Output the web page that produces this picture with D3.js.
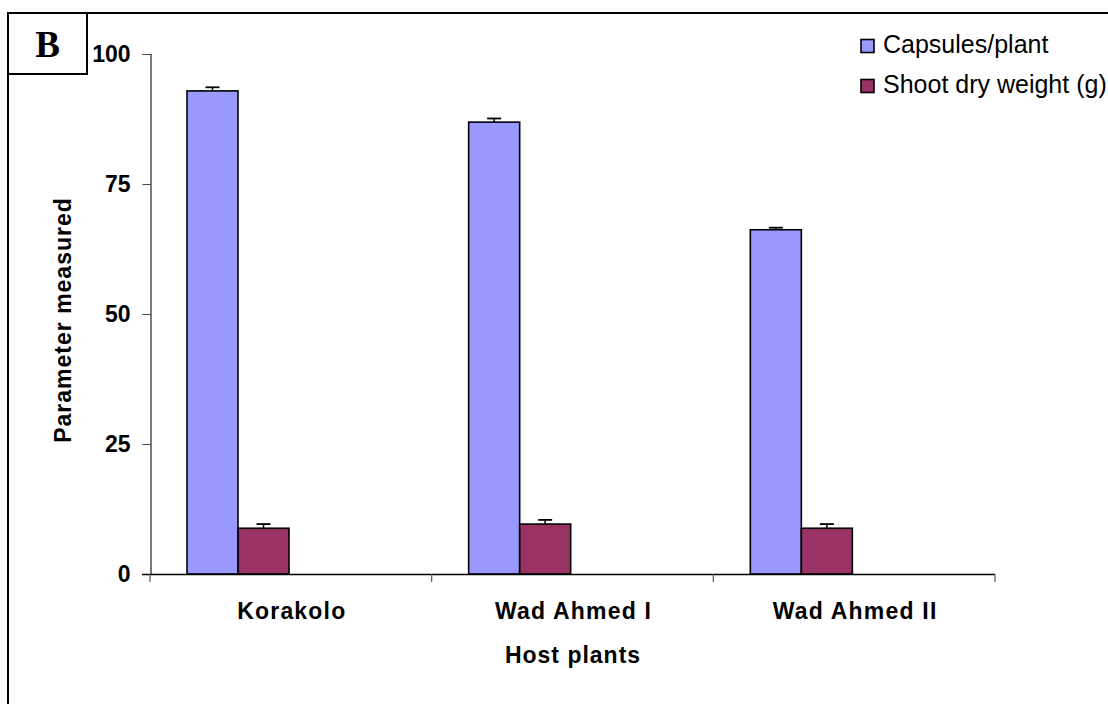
<!DOCTYPE html>
<html>
<head>
<meta charset="utf-8">
<script src="https://cdn.jsdelivr.net/npm/d3@7"></script>
<style>
  html, body { margin: 0; padding: 0; background: #fff; }
  svg { display: block; }
</style>
</head>
<body>
<svg id="chart" width="1108" height="704"></svg>
<script>
// Host plants and measured parameters
const categories = ["Korakolo", "Wad Ahmed I", "Wad Ahmed II"];
const seriesNames = ["Capsules/plant", "Shoot dry weight (g)"];
const capsules = [92.9, 86.9, 66.2];
const capsulesErr = [0.7, 0.7, 0.4];
const shootWeight = [8.8, 9.6, 8.8];
const shootWeightErr = [0.8, 0.8, 0.8];
const yTicks = [0, 25, 50, 75, 100];
const seriesColors = ["#9999FF", "#993366"];

const svg = d3.select("#chart");
const font = "Liberation Sans, Arial, sans-serif";

const plot = { left: 150, right: 995, top: 54, bottom: 574 };

const x0 = d3.scaleBand().domain(categories).range([plot.left, plot.right]).padding(0);
const x1 = d3.scaleBand().domain(seriesNames).range([37, 139]).padding(0);
const y = d3.scaleLinear().domain([0, 100]).range([plot.bottom, plot.top]);

// Outer frame (left and top edges)
svg.append("path")
  .attr("d", "M8,704 L8,13 L1108,13")
  .attr("fill", "none").attr("stroke", "#000").attr("stroke-width", 2);

// Panel letter box
svg.append("rect").attr("x", 8).attr("y", 13).attr("width", 79).attr("height", 61)
  .attr("fill", "#fff").attr("stroke", "#000").attr("stroke-width", 2);
svg.append("text").attr("x", 47.5).attr("y", 57).attr("text-anchor", "middle")
  .attr("font-family", "Liberation Serif, Times New Roman, serif")
  .attr("font-weight", "bold").attr("font-size", 37).text("B");

// Y axis
const yAxis = d3.axisLeft(y).tickValues(yTicks).tickSize(8).tickPadding(12).tickFormat(d3.format("d"));
const gy = svg.append("g").attr("transform", `translate(${plot.left + 0.5},0)`).call(yAxis);
gy.select(".domain").attr("stroke", "#222").attr("stroke-width", 1.2);
gy.selectAll(".tick line").attr("stroke", "#444");
gy.selectAll(".tick text").attr("font-family", font).attr("font-weight", "bold")
  .attr("font-size", 23).attr("fill", "#000");

// Bars
const data = categories.map((c, i) => ({
  cat: c,
  vals: [
    { s: seriesNames[0], v: capsules[i], e: capsulesErr[i], col: seriesColors[0] },
    { s: seriesNames[1], v: shootWeight[i], e: shootWeightErr[i], col: seriesColors[1] }
  ]
}));

const groups = svg.append("g").selectAll("g").data(data).join("g")
  .attr("transform", d => `translate(${x0(d.cat)},0)`);

groups.selectAll("rect").data(d => d.vals).join("rect")
  .attr("x", d => x1(d.s))
  .attr("y", d => y(d.v))
  .attr("width", x1.bandwidth())
  .attr("height", d => y(0) - y(d.v))
  .attr("fill", d => d.col)
  .attr("stroke", "#000").attr("stroke-width", 1.6);

// Error bars (plus direction)
const errs = groups.selectAll("g.err").data(d => d.vals).join("g").attr("class", "err");
errs.append("line")
  .attr("x1", d => x1(d.s) + x1.bandwidth() / 2)
  .attr("x2", d => x1(d.s) + x1.bandwidth() / 2)
  .attr("y1", d => y(d.v)).attr("y2", d => y(d.v + d.e))
  .attr("stroke", "#000").attr("stroke-width", 1.5);
errs.append("line")
  .attr("x1", d => x1(d.s) + x1.bandwidth() / 2 - 7)
  .attr("x2", d => x1(d.s) + x1.bandwidth() / 2 + 7)
  .attr("y1", d => y(d.v + d.e)).attr("y2", d => y(d.v + d.e))
  .attr("stroke", "#000").attr("stroke-width", 1.8);

// X axis
const xAxis = d3.axisBottom(x0).tickSize(0).tickFormat("");
const gx = svg.append("g").attr("transform", `translate(0,${plot.bottom})`).call(xAxis);
gx.select(".domain").attr("stroke", "#000").attr("stroke-width", 1.6)
  .attr("d", `M${plot.left - 8},0.5H${plot.right}`);
// Category boundary tick marks
const boundaries = categories.map(c => x0(c)).concat([x0(categories[categories.length - 1]) + x0.bandwidth()]);
gx.selectAll("line.bound").data(boundaries).join("line").attr("class", "bound")
  .attr("x1", d => d).attr("x2", d => d).attr("y1", 0).attr("y2", 8)
  .attr("stroke", "#555").attr("stroke-width", 1.2);
gx.selectAll("text.cat").data(categories).join("text").attr("class", "cat")
  .attr("x", d => x0(d) + x0.bandwidth() / 2 + 1)
  .attr("y", 45)
  .attr("text-anchor", "middle")
  .attr("font-family", font).attr("font-weight", "bold").attr("font-size", 23)
  .attr("letter-spacing", 1.2).attr("fill", "#000")
  .text(d => d);

// Axis titles
svg.append("text").attr("x", 573).attr("y", 663).attr("text-anchor", "middle")
  .attr("font-family", font).attr("font-weight", "bold").attr("font-size", 23)
  .attr("letter-spacing", 1).text("Host plants");
svg.append("text").attr("transform", "translate(71,320) rotate(-90)").attr("text-anchor", "middle")
  .attr("font-family", font).attr("font-weight", "bold").attr("font-size", 23)
  .attr("letter-spacing", 1).text("Parameter measured");

// Legend
const legend = svg.append("g").selectAll("g").data(seriesNames).join("g")
  .attr("transform", (d, i) => `translate(861,${39.5 + i * 40})`);
legend.append("rect").attr("width", 13).attr("height", 13)
  .attr("fill", (d, i) => seriesColors[i]).attr("stroke", "#000").attr("stroke-width", 1.6);
legend.append("text").attr("x", 22).attr("y", 13)
  .attr("font-family", font).attr("font-size", 25).attr("fill", "#000")
  .text(d => d);
</script>
</body>
</html>
